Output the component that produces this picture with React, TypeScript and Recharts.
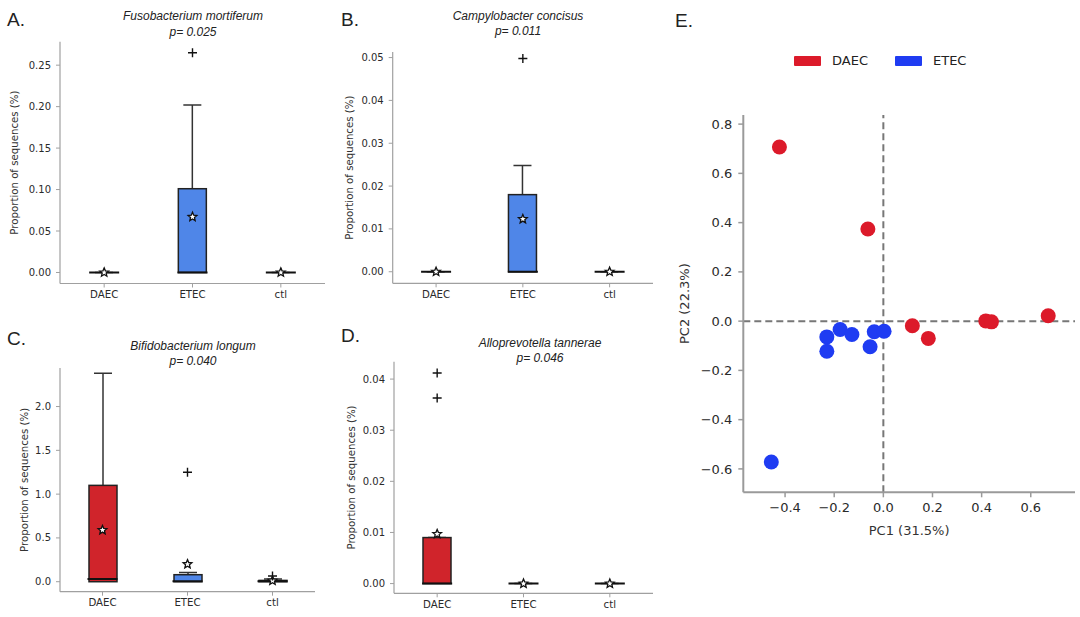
import React from 'react'
import { Bar, ComposedChart, ReferenceLine, Scatter, ScatterChart, XAxis, YAxis } from 'recharts'

// Boxplot panels A–D + PCA scatter E.

const CATS = ['DAEC', 'ETEC', 'ctl']
const BOX_FILL = ['#d0242b', '#4f86e8', '#555555']

// A. Fusobacterium mortiferum
const fusoQ1 = [0, 0, 0]
const fusoMed = [0, 0, 0]
const fusoQ3 = [0, 0.101, 0]
const fusoHi = [0, 0.202, 0]
const fusoMean = [0, 0.067, 0]
const fusoOut = [[], [0.265], []]
const fusoTicks = [0, 0.05, 0.1, 0.15, 0.2, 0.25]

// B. Campylobacter concisus
const campyQ1 = [0, 0, 0]
const campyMed = [0, 0, 0]
const campyQ3 = [0, 0.018, 0]
const campyHi = [0, 0.0248, 0]
const campyMean = [0, 0.0123, 0]
const campyOut = [[], [0.0498], []]
const campyTicks = [0, 0.01, 0.02, 0.03, 0.04, 0.05]

// C. Bifidobacterium longum
const bifidoQ1 = [0, 0, 0]
const bifidoMed = [0.03, 0.004, 0.005]
const bifidoQ3 = [1.1, 0.08, 0.015]
const bifidoHi = [2.38, 0.105, 0.03]
const bifidoMean = [0.59, 0.2, 0.012]
const bifidoOut = [[], [1.25], [0.065]]
const bifidoTicks = [0, 0.5, 1, 1.5, 2]

// D. Alloprevotella tannerae
const alloQ1 = [0, 0, 0]
const alloMed = [0, 0, 0]
const alloQ3 = [0.009, 0, 0]
const alloHi = [0.009, 0, 0]
const alloMean = [0.0097, 0, 0]
const alloOut = [[0.0412, 0.0363], [], []]
const alloTicks = [0, 0.01, 0.02, 0.03, 0.04]

// E. PCA
const daecPC1 = [-0.423, -0.063, 0.118, 0.183, 0.417, 0.44, 0.671]
const daecPC2 = [0.707, 0.374, -0.019, -0.07, 0.001, -0.003, 0.022]
const etecPC1 = [-0.23, -0.23, -0.176, -0.128, -0.037, -0.054, 0.003, -0.456]
const etecPC2 = [-0.064, -0.122, -0.034, -0.054, -0.043, -0.104, -0.041, -0.572]
const pcXTicks = [-0.4, -0.2, 0, 0.2, 0.4, 0.6]
const pcYTicks = [-0.6, -0.4, -0.2, 0, 0.2, 0.4, 0.6, 0.8]
const legendNames = ['DAEC', 'ETEC']
const legendColors = ['#dc1a2a', '#1f3cf2']

const TICK_FONT = 'DejaVu Sans, sans-serif'
const TITLE_FONT = 'Liberation Sans, Arial, sans-serif'

function buildRows(q1: number[], med: number[], q3: number[], hi: number[], mean: number[], out: number[][]) {
  return CATS.map((name, i) => ({
    name,
    box: [q1[i], q3[i]],
    whisk: [q3[i], hi[i]],
    med: med[i],
    mean: mean[i],
    o1: out[i][0] ?? null,
    o2: out[i][1] ?? null,
  }))
}

function BoxShape(p: any) {
  const { x, y, width, height, payload } = p
  const top = Math.min(y, y + height)
  const h = Math.abs(height)
  if (!(h > 0.5)) return <g />
  const fill = BOX_FILL[CATS.indexOf(payload.name)]
  return <rect x={x} y={top} width={width} height={h} fill={fill} stroke="#222" strokeWidth={1.5} />
}

function WhiskerShape(p: any) {
  const { x, y, width, height } = p
  const top = Math.min(y, y + height)
  const h = Math.abs(height)
  const cx = x + width / 2
  return (
    <g stroke="#333" strokeWidth={1.5}>
      <line x1={cx} x2={cx} y1={top} y2={top + h} />
      <line x1={cx - 9} x2={cx + 9} y1={top} y2={top} />
    </g>
  )
}

function MedianShape(p: any) {
  const { cx, cy } = p
  return <line x1={cx - 15} x2={cx + 15} y1={cy} y2={cy} stroke="#111" strokeWidth={2} />
}

function starPath(cx: number, cy: number, r: number) {
  const pts: string[] = []
  for (let i = 0; i < 10; i++) {
    const rr = i % 2 === 0 ? r : r * 0.45
    const a = -Math.PI / 2 + (i * Math.PI) / 5
    pts.push(`${(cx + rr * Math.cos(a)).toFixed(2)},${(cy + rr * Math.sin(a)).toFixed(2)}`)
  }
  return 'M' + pts.join('L') + 'Z'
}

function MeanShape(p: any) {
  const { cx, cy } = p
  return <path d={starPath(cx, cy, 4.6)} fill="#fff" stroke="#111" strokeWidth={1.3} />
}

function plusShape(key: 'o1' | 'o2') {
  return (p: any) => {
    const { cx, cy, payload } = p
    if (payload[key] == null) return <g />
    return (
      <g stroke="#111" strokeWidth={1.4}>
        <line x1={cx - 4.5} x2={cx + 4.5} y1={cy} y2={cy} />
        <line x1={cx} x2={cx} y1={cy - 4.5} y2={cy + 4.5} />
      </g>
    )
  }
}

function YTitle(props: any) {
  const { viewBox, text, dx, size } = props
  if (!viewBox) return null
  const x = viewBox.x + dx
  const y = viewBox.y + viewBox.height / 2
  return (
    <text
      x={x}
      y={y}
      transform={`rotate(-90 ${x} ${y})`}
      textAnchor="middle"
      dominantBaseline="central"
      fontSize={size}
      fontFamily={TICK_FONT}
      fill="#333"
    >
      {text}
    </text>
  )
}

function XTitle(props: any) {
  const { viewBox, text, dy, size } = props
  if (!viewBox) return null
  return (
    <text
      x={viewBox.x + viewBox.width / 2}
      y={viewBox.y + dy}
      textAnchor="middle"
      dominantBaseline="central"
      fontSize={size}
      fontFamily={TICK_FONT}
      fill="#333"
    >
      {text}
    </text>
  )
}

function Txt({ x, y, children, size, italic, anchor = 'center' }: any) {
  return (
    <div
      style={{
        position: 'absolute',
        left: x,
        top: y,
        transform: anchor === 'center' ? 'translate(-50%, -50%)' : 'translate(0, -50%)',
        fontFamily: TITLE_FONT,
        fontSize: size,
        fontStyle: italic ? 'italic' : 'normal',
        color: '#222',
        whiteSpace: 'nowrap',
        lineHeight: 1,
      }}
    >
      {children}
    </div>
  )
}

interface BoxPanelProps {
  ox: number
  oy: number
  w: number
  h: number
  plot: { L: number; T: number; R: number; B: number }
  rows: ReturnType<typeof buildRows>
  domain: [number, number]
  ticks: number[]
  digits: number
  labelDx: number
}

function BoxPanel({ ox, oy, w, h, plot, rows, domain, ticks, digits, labelDx }: BoxPanelProps) {
  const L = plot.L - ox
  const T = plot.T - oy
  const R = plot.R - ox
  const B = plot.B - oy
  const axisStroke = '#a0a0a0'
  return (
    <div style={{ position: 'absolute', left: ox, top: oy }}>
      <ComposedChart width={w} height={h} data={rows} margin={{ top: T, right: w - R, bottom: 0, left: 0 }}>
        <XAxis
          dataKey="name"
          height={h - B}
          axisLine={{ stroke: axisStroke, strokeWidth: 1.2 }}
          tickLine={{ stroke: axisStroke }}
          tickSize={4}
          tickMargin={3}
          tick={{ fill: '#2a2a2a', fontSize: 10.2, fontFamily: TICK_FONT }}
        />
        <XAxis xAxisId="w" dataKey="name" hide />
        <YAxis
          type="number"
          domain={domain}
          ticks={ticks}
          allowDataOverflow
          width={L}
          interval={0}
          tickFormatter={(v: number) => v.toFixed(digits)}
          axisLine={{ stroke: axisStroke, strokeWidth: 1.2 }}
          tickLine={{ stroke: axisStroke }}
          tickSize={4}
          tickMargin={5}
          tick={{ fill: '#2a2a2a', fontSize: 10, fontFamily: TICK_FONT }}
          label={<YTitle text="Proportion of sequences (%)" dx={labelDx} size={10.2} />}
        />
        <Bar xAxisId="w" dataKey="whisk" barSize={28} shape={WhiskerShape} isAnimationActive={false} />
        <Bar dataKey="box" barSize={28} shape={BoxShape} isAnimationActive={false} />
        <Scatter dataKey="med" shape={MedianShape} isAnimationActive={false} />
        <Scatter dataKey="mean" shape={MeanShape} isAnimationActive={false} />
        <Scatter dataKey="o1" shape={plusShape('o1')} isAnimationActive={false} />
        <Scatter dataKey="o2" shape={plusShape('o2')} isAnimationActive={false} />
      </ComposedChart>
    </div>
  )
}

function Dot(color: string) {
  return (p: any) => <circle cx={p.cx} cy={p.cy} r={7.5} fill={color} />
}

const fmtSigned = (v: number) => (v < 0 ? '\u2212' + Math.abs(v).toFixed(1) : v.toFixed(1))

function PcaPanel() {
  const daecPts = daecPC1.map((x, i) => ({ x, y: daecPC2[i] }))
  const etecPts = etecPC1.map((x, i) => ({ x, y: etecPC2[i] }))
  const axisStroke = '#9a9a9a'
  return (
    <div style={{ position: 'absolute', left: 665, top: 0 }}>
      <ScatterChart width={415} height={617} margin={{ top: 115, right: 5, bottom: 84.7, left: 0 }}>
        <XAxis
          type="number"
          dataKey="x"
          domain={[-0.57, 0.78]}
          ticks={pcXTicks}
          allowDataOverflow
          height={40}
          interval={0}
          tickFormatter={fmtSigned}
          axisLine={{ stroke: axisStroke, strokeWidth: 2 }}
          tickLine={{ stroke: axisStroke, strokeWidth: 1.5 }}
          tickSize={5}
          tickMargin={5}
          tick={{ fill: '#2a2a2a', fontSize: 13, fontFamily: TICK_FONT }}
          label={<XTitle text="PC1 (31.5%)" dy={38} size={13} />}
        />
        <YAxis
          type="number"
          dataKey="y"
          domain={[-0.695, 0.837]}
          ticks={pcYTicks}
          allowDataOverflow
          width={78.3}
          interval={0}
          tickFormatter={fmtSigned}
          axisLine={{ stroke: axisStroke, strokeWidth: 2 }}
          tickLine={{ stroke: axisStroke, strokeWidth: 1.5 }}
          tickSize={5}
          tickMargin={6}
          tick={{ fill: '#2a2a2a', fontSize: 13, fontFamily: TICK_FONT }}
          label={<YTitle text="PC2 (22.3%)" dx={20} size={13} />}
        />
        <ReferenceLine x={0} stroke="#777" strokeWidth={2} strokeDasharray="7 4" />
        <ReferenceLine y={0} stroke="#777" strokeWidth={2} strokeDasharray="7 4" />
        <Scatter name="DAEC" data={daecPts} shape={Dot(legendColors[0])} isAnimationActive={false} />
        <Scatter name="ETEC" data={etecPts} shape={Dot(legendColors[1])} isAnimationActive={false} />
      </ScatterChart>
    </div>
  )
}

export default function App() {
  const rowsA = buildRows(fusoQ1, fusoMed, fusoQ3, fusoHi, fusoMean, fusoOut)
  const rowsB = buildRows(campyQ1, campyMed, campyQ3, campyHi, campyMean, campyOut)
  const rowsC = buildRows(bifidoQ1, bifidoMed, bifidoQ3, bifidoHi, bifidoMean, bifidoOut)
  const rowsD = buildRows(alloQ1, alloMed, alloQ3, alloHi, alloMean, alloOut)

  return (
    <div style={{ position: 'absolute', left: 0, top: 0, width: 1080, height: 617, background: '#fff', overflow: 'hidden' }}>
      <BoxPanel ox={0} oy={0} w={335} h={310} plot={{ L: 60, T: 41.7, R: 325, B: 283.5 }} rows={rowsA}
        domain={[-0.0133, 0.2783]} ticks={fusoTicks} digits={2} labelDx={15} />
      <BoxPanel ox={330} oy={0} w={335} h={310} plot={{ L: 392.7, T: 52, R: 653, B: 283.3 }} rows={rowsB}
        domain={[-0.0027, 0.0513]} ticks={campyTicks} digits={2} labelDx={20} />
      <BoxPanel ox={0} oy={300} w={330} h={317} plot={{ L: 60, T: 368, R: 315, B: 591.7 }} rows={rowsC}
        domain={[-0.114, 2.44]} ticks={bifidoTicks} digits={1} labelDx={25} />
      <BoxPanel ox={330} oy={300} w={335} h={317} plot={{ L: 394, T: 361.7, R: 653, B: 593.3 }} rows={rowsD}
        domain={[-0.0019, 0.0434]} ticks={alloTicks} digits={2} labelDx={21} />
      <PcaPanel />

      <Txt x={7} y={19} size={19} anchor="left">A.</Txt>
      <Txt x={341} y={19} size={19} anchor="left">B.</Txt>
      <Txt x={7} y={338} size={19} anchor="left">C.</Txt>
      <Txt x={341} y={335} size={19} anchor="left">D.</Txt>
      <Txt x={675} y={20} size={19} anchor="left">E.</Txt>

      <Txt x={193} y={16} size={12} italic>Fusobacterium mortiferum</Txt>
      <Txt x={193} y={31.5} size={12} italic>p= 0.025</Txt>
      <Txt x={518} y={16} size={12} italic>Campylobacter concisus</Txt>
      <Txt x={518} y={31} size={12} italic>p= 0.011</Txt>
      <Txt x={193} y={346} size={12} italic>Bifidobacterium longum</Txt>
      <Txt x={193} y={361} size={12} italic>p= 0.040</Txt>
      <Txt x={540} y={343} size={12} italic>Alloprevotella tannerae</Txt>
      <Txt x={540} y={357.5} size={12} italic>p= 0.046</Txt>

      {legendNames.map((name, i) => (
        <div key={name} style={{ position: 'absolute', left: 794 + i * 101, top: 56 }}>
          <div style={{ position: 'absolute', left: 0, top: 0, width: 27, height: 10, background: legendColors[i], borderRadius: 1 }} />
          <div style={{ position: 'absolute', left: 38, top: -2, fontFamily: TICK_FONT, fontSize: 13, color: '#222', whiteSpace: 'nowrap', lineHeight: '14px' }}>
            {name}
          </div>
        </div>
      ))}
    </div>
  )
}
